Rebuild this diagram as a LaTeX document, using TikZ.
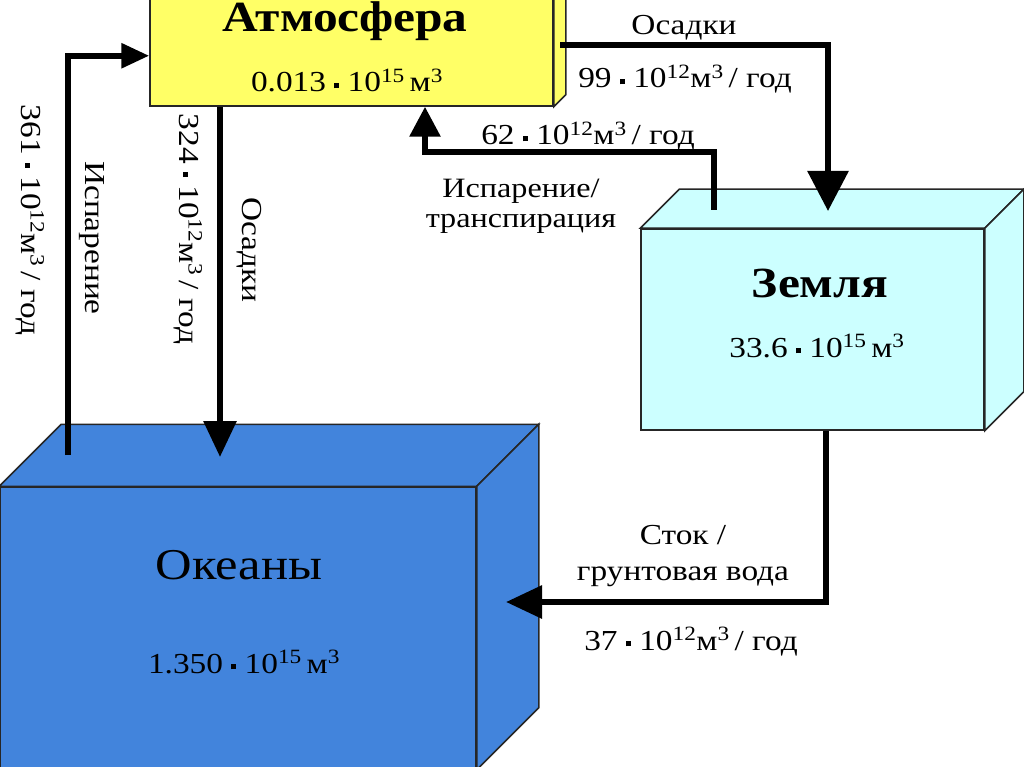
\documentclass[tikz,border=0pt]{standalone}
\usepackage{fontspec}
\setmainfont{Liberation Serif}[FakeStretch=1.15]
\usetikzlibrary{arrows.meta,calc}

\definecolor{atmcol}{RGB}{255,255,102}
\definecolor{lndcol}{RGB}{204,255,255}
\definecolor{ocncol}{RGB}{66,132,220}
\newcommand{\mdot}{\raisebox{0.28ex}{\rule{0.17em}{0.17em}}}
\newcommand{\flux}[1]{#1 \mdot{} 10\textsuperscript{12}м\textsuperscript{3}\,/ год}
\newcommand{\vol}[1]{#1 \mdot{} 10\textsuperscript{15}\,м\textsuperscript{3}}

\begin{document}
\begin{tikzpicture}[x=1pt, y=-1pt, >={Triangle[width=32pt,length=36pt]},
  face/.style={draw=black!85, line width=1.5pt},
  flow/.style={line width=6pt, ->},
  lbl/.style={font=\fontsize{29}{32}\selectfont, inner sep=0pt},
  ttl/.style={font=\fontsize{43}{47}\selectfont\bfseries, inner sep=0pt}]
  \useasboundingbox[fill=white] (0,0) rectangle (1024,767);

  % boxes
  \node[face, fill=atmcol, minimum width=403pt, minimum height=166pt] (atm) at (351.5,23) {};
  \draw[face, fill=atmcol] (atm.north east) -- ++(12,-12) -- ($(atm.south east)+(12,-12)$) -- (atm.south east) -- cycle;
  \node[face, fill=lndcol, minimum width=343pt, minimum height=201pt] (lnd) at (812.5,329.5) {};
  \draw[face, fill=lndcol] (lnd.north west) -- ++(39,-39) -- ($(lnd.north east)+(39,-39)$) -- (lnd.north east) -- cycle;
  \draw[face, fill=lndcol] (lnd.north east) -- ++(39,-39) -- ($(lnd.south east)+(39,-39)$) -- (lnd.south east) -- cycle;
  \node[face, fill=ocncol, minimum width=476pt, minimum height=282pt] (ocn) at (238,628) {};
  \draw[face, fill=ocncol] (ocn.north west) -- ++(62,-62) -- ($(ocn.north east)+(62,-62)$) -- (ocn.north east) -- cycle;
  \draw[face, fill=ocncol] (ocn.north east) -- ++(62,-62) -- ($(ocn.south east)+(62,-62)$) -- (ocn.south east) -- cycle;

  \node[ttl, anchor=base] (atmT) at (345,32) {Атмосфера};
  \node[lbl, anchor=base] (atmV) at (347,92) {\vol{0.013}};
  \node[ttl, anchor=base] (lndT) at (820,297) {Земля};
  \node[lbl, anchor=base] (lndV) at (817,357) {\vol{33.6}};
  \node[ttl, font=\fontsize{44}{48}\selectfont, anchor=base] (ocnT) at (239,579) {Океаны};
  \node[lbl, anchor=base] (ocnV) at (244,673) {\vol{1.350}};

  % flows
  \coordinate (ocnL) at (68,455);
  \coordinate (ocnM) at (220,457);
  \coordinate (lndL) at (714,210);
  \coordinate (lndM) at (828,211);
  \coordinate (atmE) at (560,45);
  \coordinate (evap) at (425,152);
  \coordinate (runoff) at (826,602);
  \coordinate (ocnR) at (506,602);
  \draw[flow, -{Triangle[width=24pt,length=28pt]}] (ocnL) |- ($(atm.south west)+(0,-51)$);
  \draw[flow] (atm.south -| ocnM) -- (ocnM);
  \draw[flow, -{Triangle[width=40pt,length=40pt]}] (atmE) -| (lndM);
  \draw[flow, -{Triangle[width=30pt,length=30pt]}] (lndL) |- (evap) -- (evap |- atm.south);
  \draw[flow] (lnd.south -| runoff) -- (runoff) -- (ocnR);

  % labels
  \node[lbl, rotate=-90] (l361) at (30,220) {\flux{361}};
  \node[lbl, rotate=-90] (lEvap) at (92,238) {Испарение};
  \node[lbl, rotate=-90] (l324) at (188,229) {\flux{324}};
  \node[lbl, rotate=-90] (lPrcO) at (249,250) {Осадки};
  \node[lbl, anchor=base] (lPrcL) at (684,35) {Осадки};
  \node[lbl, anchor=base] (l99) at (685,88) {\flux{99}};
  \node[lbl, anchor=base] (l62) at (588,145) {\flux{62}};
  \node[lbl, align=center, font=\fontsize{28}{30}\selectfont] (lTr) at (521,206) {Испарение/\\транспирация};
  \node[lbl, align=center, font=\fontsize{29}{36}\selectfont] (lRun) at (683,556) {Сток /\\грунтовая вода};
  \node[lbl, anchor=base] (l37) at (691,650) {\flux{37}};
\end{tikzpicture}
\end{document}
